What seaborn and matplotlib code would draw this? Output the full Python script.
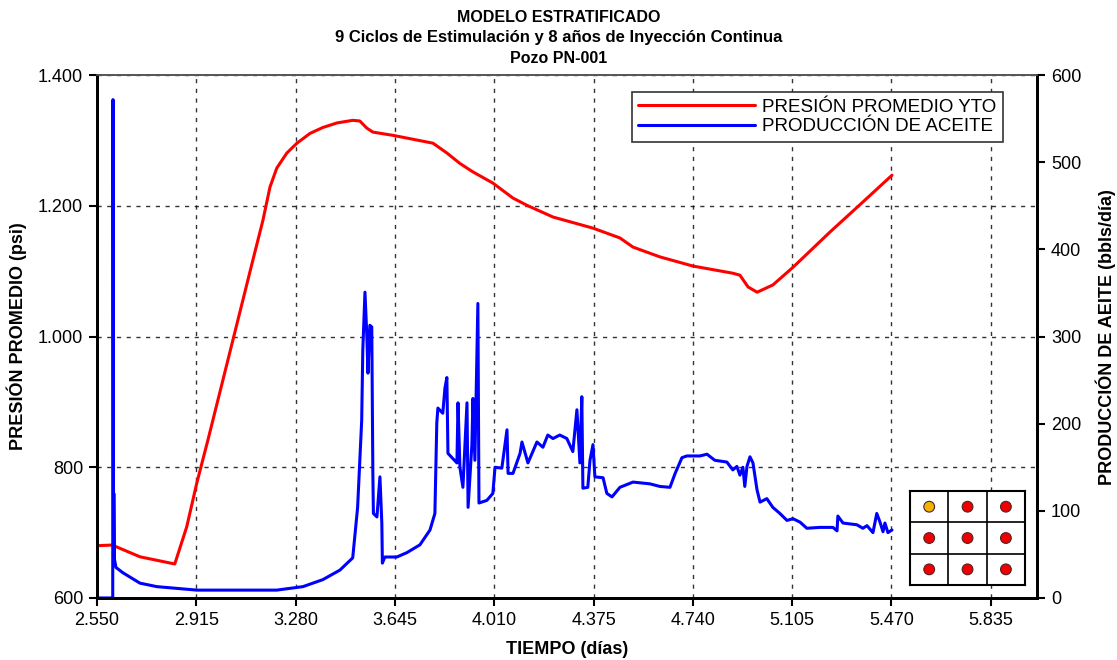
import pandas as pd
import numpy as np
import matplotlib
matplotlib.use("Agg")
import matplotlib.pyplot as plt
from matplotlib.ticker import FuncFormatter
import seaborn as sns

# %%
# Presión promedio del yacimiento (psi) vs tiempo (días)
t_pres = [2550, 2608, 2623, 2708, 2836, 2880, 2917, 2958, 3123, 3160, 3186, 3211,
          3248, 3285, 3333, 3380, 3432, 3490, 3516, 3542, 3564, 3638, 3785, 3836,
          3884, 3932, 4005, 4079, 4130, 4226, 4373, 4472, 4520, 4619, 4740, 4887,
          4913, 4943, 4976, 4987, 5034, 5108, 5244, 5365, 5472]
presion = [680, 681, 678, 663, 652, 709, 776, 842, 1117, 1178, 1229, 1258,
           1281, 1296, 1311, 1320, 1327, 1331, 1330, 1319, 1313, 1308, 1296, 1281,
           1265, 1252, 1235, 1212, 1201, 1183, 1166, 1151, 1137, 1122, 1108, 1097,
           1094, 1076, 1068, 1070, 1079, 1106, 1160, 1206, 1247]

# Producción de aceite (bbls/día) vs tiempo (días)
t_prod = [2550, 2608, 2609, 2611, 2612, 2614, 2620, 2645, 2708, 2770, 2917, 3211,
          3307, 3380, 3443, 3490, 3508, 3523, 3527, 3535, 3542, 3546, 3553, 3560,
          3564, 3566, 3579, 3590, 3597, 3599, 3608, 3652, 3689, 3737, 3774, 3792,
          3799, 3803, 3821, 3829, 3836, 3840, 3873, 3877, 3884, 3895, 3910, 3914,
          3928, 3932, 3939, 3950, 3954, 3983, 4005, 4013, 4038, 4057, 4061, 4079,
          4105, 4112, 4134, 4167, 4189, 4207, 4226, 4251, 4277, 4299, 4314, 4325,
          4332, 4336, 4354, 4362, 4373, 4380, 4410, 4424, 4443, 4472, 4520, 4582,
          4619, 4656, 4675, 4700, 4718, 4766, 4792, 4821, 4865, 4887, 4902, 4913,
          4924, 4931, 4939, 4950, 4961, 4976, 4987, 5012, 5034, 5060, 5086, 5108,
          5134, 5159, 5207, 5255, 5270, 5273, 5292, 5343, 5365, 5380, 5402, 5416,
          5428, 5439, 5446, 5457, 5472]
produccion = [0, 0, 572, 40, 120, 45, 35, 29, 17, 13, 9, 9,
              13, 21, 32, 46, 104, 204, 284, 351, 300, 258, 313, 311,
              143, 97, 93, 139, 86, 40, 47, 47, 52, 61, 78, 97,
              201, 218, 212, 241, 253, 166, 155, 224, 150, 127, 224, 104,
              176, 229, 158, 338, 109, 112, 120, 150, 149, 193, 143, 143,
              166, 179, 155, 179, 173, 187, 183, 187, 183, 168, 216, 155,
              231, 126, 127, 158, 176, 139, 138, 120, 116, 127, 133, 131,
              128, 127, 143, 161, 163, 163, 165, 158, 156, 147, 151, 141,
              150, 128, 151, 162, 155, 124, 110, 114, 104, 97, 89, 91,
              87, 80, 81, 81, 77, 94, 86, 84, 80, 83, 75, 97,
              87, 76, 86, 75, 78]

x_ticks = [2550, 2915, 3280, 3645, 4010, 4375, 4740, 5105, 5470, 5835]
pres_ticks = [600, 800, 1000, 1200, 1400]
prod_ticks = [0, 100, 200, 300, 400, 500, 600]

titulos = ["MODELO ESTRATIFICADO",
           "9 Ciclos de Estimulación y 8 años de Inyección Continua",
           "Pozo PN-001"]

# malla de pozos 3x3 (1 = pozo destacado)
malla = [[1, 0, 0],
         [0, 0, 0],
         [0, 0, 0]]

# %%
sns.set_style("white")
plt.rcParams['font.family'] = ['Liberation Sans', 'DejaVu Sans']
plt.rcParams.update({'text.color': 'black', 'axes.labelcolor': 'black',
                     'xtick.color': 'black', 'ytick.color': 'black'})

df_pres = pd.DataFrame({'t': t_pres, 'p': presion})
df_prod = pd.DataFrame({'t': t_prod, 'q': produccion})

fig = plt.figure(figsize=(11.17, 6.6), dpi=100)
ax = fig.add_axes([0.0868, 0.094, 0.8416, 0.792])
ax2 = ax.twinx()

sns.lineplot(data=df_pres, x='t', y='p', ax=ax, color='#ff0000', lw=2.2,
             sort=False, estimator=None, label='PRESIÓN PROMEDIO YTO', legend=False)
sns.lineplot(data=df_prod, x='t', y='q', ax=ax2, color='#0000ff', lw=2.2,
             sort=False, estimator=None, label='PRODUCCIÓN DE ACEITE', legend=False)

ax.set_xlim(2550, 6005)
ax.set_ylim(600, 1400)
ax2.set_ylim(0, 600)
ax.set_xticks(x_ticks)
ax.set_yticks(pres_ticks)
ax2.set_yticks(prod_ticks)

miles = FuncFormatter(lambda v, pos: f"{int(v):,}".replace(",", "."))
ax.xaxis.set_major_formatter(miles)
ax.yaxis.set_major_formatter(miles)

ax.grid(True, color='black', linestyle=(0, (3, 4)), lw=1.0, alpha=0.8)
ax.set_axisbelow(True)

for a in (ax, ax2):
    a.tick_params(direction='out', length=6, width=1.5, labelsize=13, pad=4)
    for s in ['left', 'right', 'bottom']:
        a.spines[s].set_linewidth(2)
        a.spines[s].set_color('black')
    a.spines['top'].set_linewidth(1.2)
    a.spines['top'].set_color('#555555')
ax.tick_params(axis='y', left=True, right=False)
ax.tick_params(axis='x', bottom=True)
ax2.tick_params(axis='y', right=True, left=False)

ax.set_xlabel('TIEMPO (días)', fontsize=13, fontweight='bold', labelpad=9)
ax.set_ylabel('PRESIÓN PROMEDIO (psi)', fontsize=13, fontweight='bold', labelpad=8)
ax2.set_ylabel('PRODUCCIÓN DE AEITE (bbls/día)', fontsize=13, fontweight='bold', labelpad=10)

# título en tres renglones
for txt, yy, fs in zip(titulos, [0.974, 0.943, 0.912], [11.5, 12, 11.5]):
    fig.text(0.5, yy, txt, ha='center', va='center', fontsize=fs, fontweight='bold')

# leyenda
h1, l1 = ax.get_legend_handles_labels()
h2, l2 = ax2.get_legend_handles_labels()
leg = ax2.legend(h1 + h2, l1 + l2, loc='upper right', bbox_to_anchor=(0.9638, 0.9675),
                 borderaxespad=0, fontsize=13.5, handlelength=6.2, handletextpad=0.4,
                 borderpad=0.35, labelspacing=0.12, frameon=True, fancybox=False,
                 framealpha=1, edgecolor='#333333')
leg.get_frame().set_linewidth(1.2)

# malla de pozos
axm = fig.add_axes([0.8147, 0.1136, 0.103, 0.1424])
gx, gy, col = [], [], []
for i, fila in enumerate(malla):
    for j, v in enumerate(fila):
        gx.append(j + 0.5)
        gy.append(2.5 - i)
        col.append('#f0b400' if v else '#ee0000')
axm.scatter(gx, gy, s=60, c=col, edgecolors='#552222', linewidths=0.8, zorder=3)
axm.set_xlim(0, 3)
axm.set_ylim(0, 3)
axm.set_xticks([1, 2])
axm.set_yticks([1, 2])
axm.set_xticklabels([])
axm.set_yticklabels([])
axm.tick_params(length=0)
axm.grid(True, color='black', lw=1.2)
for s in axm.spines.values():
    s.set_linewidth(1.5)
    s.set_color('black')
axm.set_facecolor('white')

fig.savefig('out.png', dpi=100)
